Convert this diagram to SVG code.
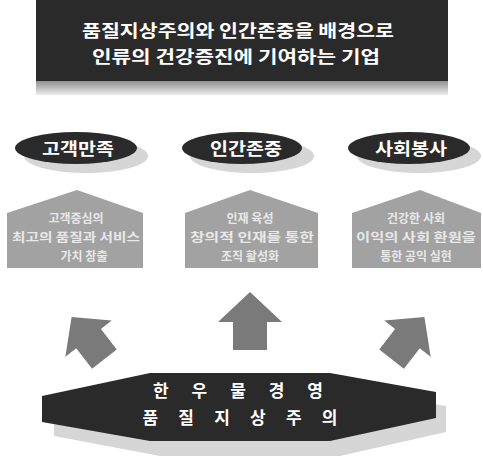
<svg xmlns="http://www.w3.org/2000/svg" width="483" height="463" viewBox="0 0 483 463">
<defs>
<style>
.kt{font-family:"Noto Sans CJK KR","Noto Sans",sans-serif;font-weight:bold;fill:#ffffff;text-anchor:middle}
.pt{font-family:"Noto Sans CJK KR","Noto Sans",sans-serif;font-weight:bold;fill:#e8e8e8;text-anchor:middle;font-size:12px}
.dark{fill:#2a2a2a}
.shadow{fill:#d6d6d6}
.pent{fill:#a2a2a2}
.arrow{fill:#7a7a7a}
</style>
<linearGradient id="bshadow" x1="0" y1="0" x2="0" y2="1">
<stop offset="0" stop-color="#8a8a8a"/>
<stop offset="1" stop-color="#eeeeee"/>
</linearGradient>
<polygon id="arr" points="0,-29 32,1 17,1 17,29 -17,29 -17,1 -32,1"/>
</defs>
<rect width="483" height="463" fill="#ffffff"/>

<g id="banner">
<rect x="36" y="80" width="412" height="15" fill="url(#bshadow)"/>
<rect x="36" y="0" width="412" height="81" class="dark"/>
<text class="kt" x="238" y="37" font-size="17" textLength="312" lengthAdjust="spacingAndGlyphs">품질지상주의와 인간존중을 배경으로</text>
<text class="kt" x="236" y="63" font-size="17" textLength="288" lengthAdjust="spacingAndGlyphs">인류의 건강증진에 기여하는 기업</text>
</g>

<g id="oval-left">
<ellipse cx="86" cy="156" rx="62" ry="17" class="shadow"/>
<ellipse cx="76" cy="148" rx="61" ry="16" class="dark"/>
<text class="kt" x="78" y="155" font-size="17" textLength="72" lengthAdjust="spacingAndGlyphs">고객만족</text>
</g>
<g id="oval-middle">
<ellipse cx="252" cy="156" rx="62" ry="17" class="shadow"/>
<ellipse cx="242" cy="148" rx="60" ry="16" class="dark"/>
<text class="kt" x="246" y="155" font-size="17" textLength="72" lengthAdjust="spacingAndGlyphs">인간존중</text>
</g>
<g id="oval-right">
<ellipse cx="419" cy="156" rx="62" ry="17" class="shadow"/>
<ellipse cx="409" cy="148" rx="61" ry="16" class="dark"/>
<text class="kt" x="411" y="155" font-size="17" textLength="72" lengthAdjust="spacingAndGlyphs">사회봉사</text>
</g>

<g id="box-left">
<polygon class="pent" points="7,213 77,190 143,213 143,268 7,268"/>
<text class="pt" x="76" y="223">고객중심의</text>
<text class="pt" x="76" y="242" textLength="128" lengthAdjust="spacingAndGlyphs">최고의 품질과 서비스</text>
<text class="pt" x="84" y="261">가치 창출</text>
</g>
<g id="box-middle">
<polygon class="pent" points="185,213 250,190 318,213 318,268 185,268"/>
<text class="pt" x="250" y="223">인재 육성</text>
<text class="pt" x="252" y="242" textLength="124" lengthAdjust="spacingAndGlyphs">창의적 인재를 통한</text>
<text class="pt" x="250" y="261">조직 활성화</text>
</g>
<g id="box-right">
<polygon class="pent" points="352,213 420,190 481,213 481,268 352,268"/>
<text class="pt" x="416" y="223">건강한 사회</text>
<text class="pt" x="416" y="242" textLength="120" lengthAdjust="spacingAndGlyphs">이익의 사회 환원을</text>
<text class="pt" x="416" y="261">통한 공익 실현</text>
</g>

<g id="connectors">
<use href="#arr" class="arrow" transform="translate(250,321)"/>
<use href="#arr" class="arrow" transform="translate(88,338) rotate(-38) scale(0.92)"/>
<use href="#arr" class="arrow" transform="translate(408,338) rotate(38) scale(0.92)"/>
</g>

<g id="base">
<polygon class="shadow" points="54,410 160,387 340,387 446,406 446,432 340,456 160,456 54,436"/>
<polygon class="dark" points="42,396 150,373 330,373 436,392 436,418 330,441 150,441 42,422"/>
<text class="kt" x="238" y="397" font-size="17" textLength="170" lengthAdjust="spacing">한 우 물 경 영</text>
<text class="kt" x="240" y="424" font-size="17" textLength="195" lengthAdjust="spacing">품 질 지 상 주 의</text>
</g>
</svg>
